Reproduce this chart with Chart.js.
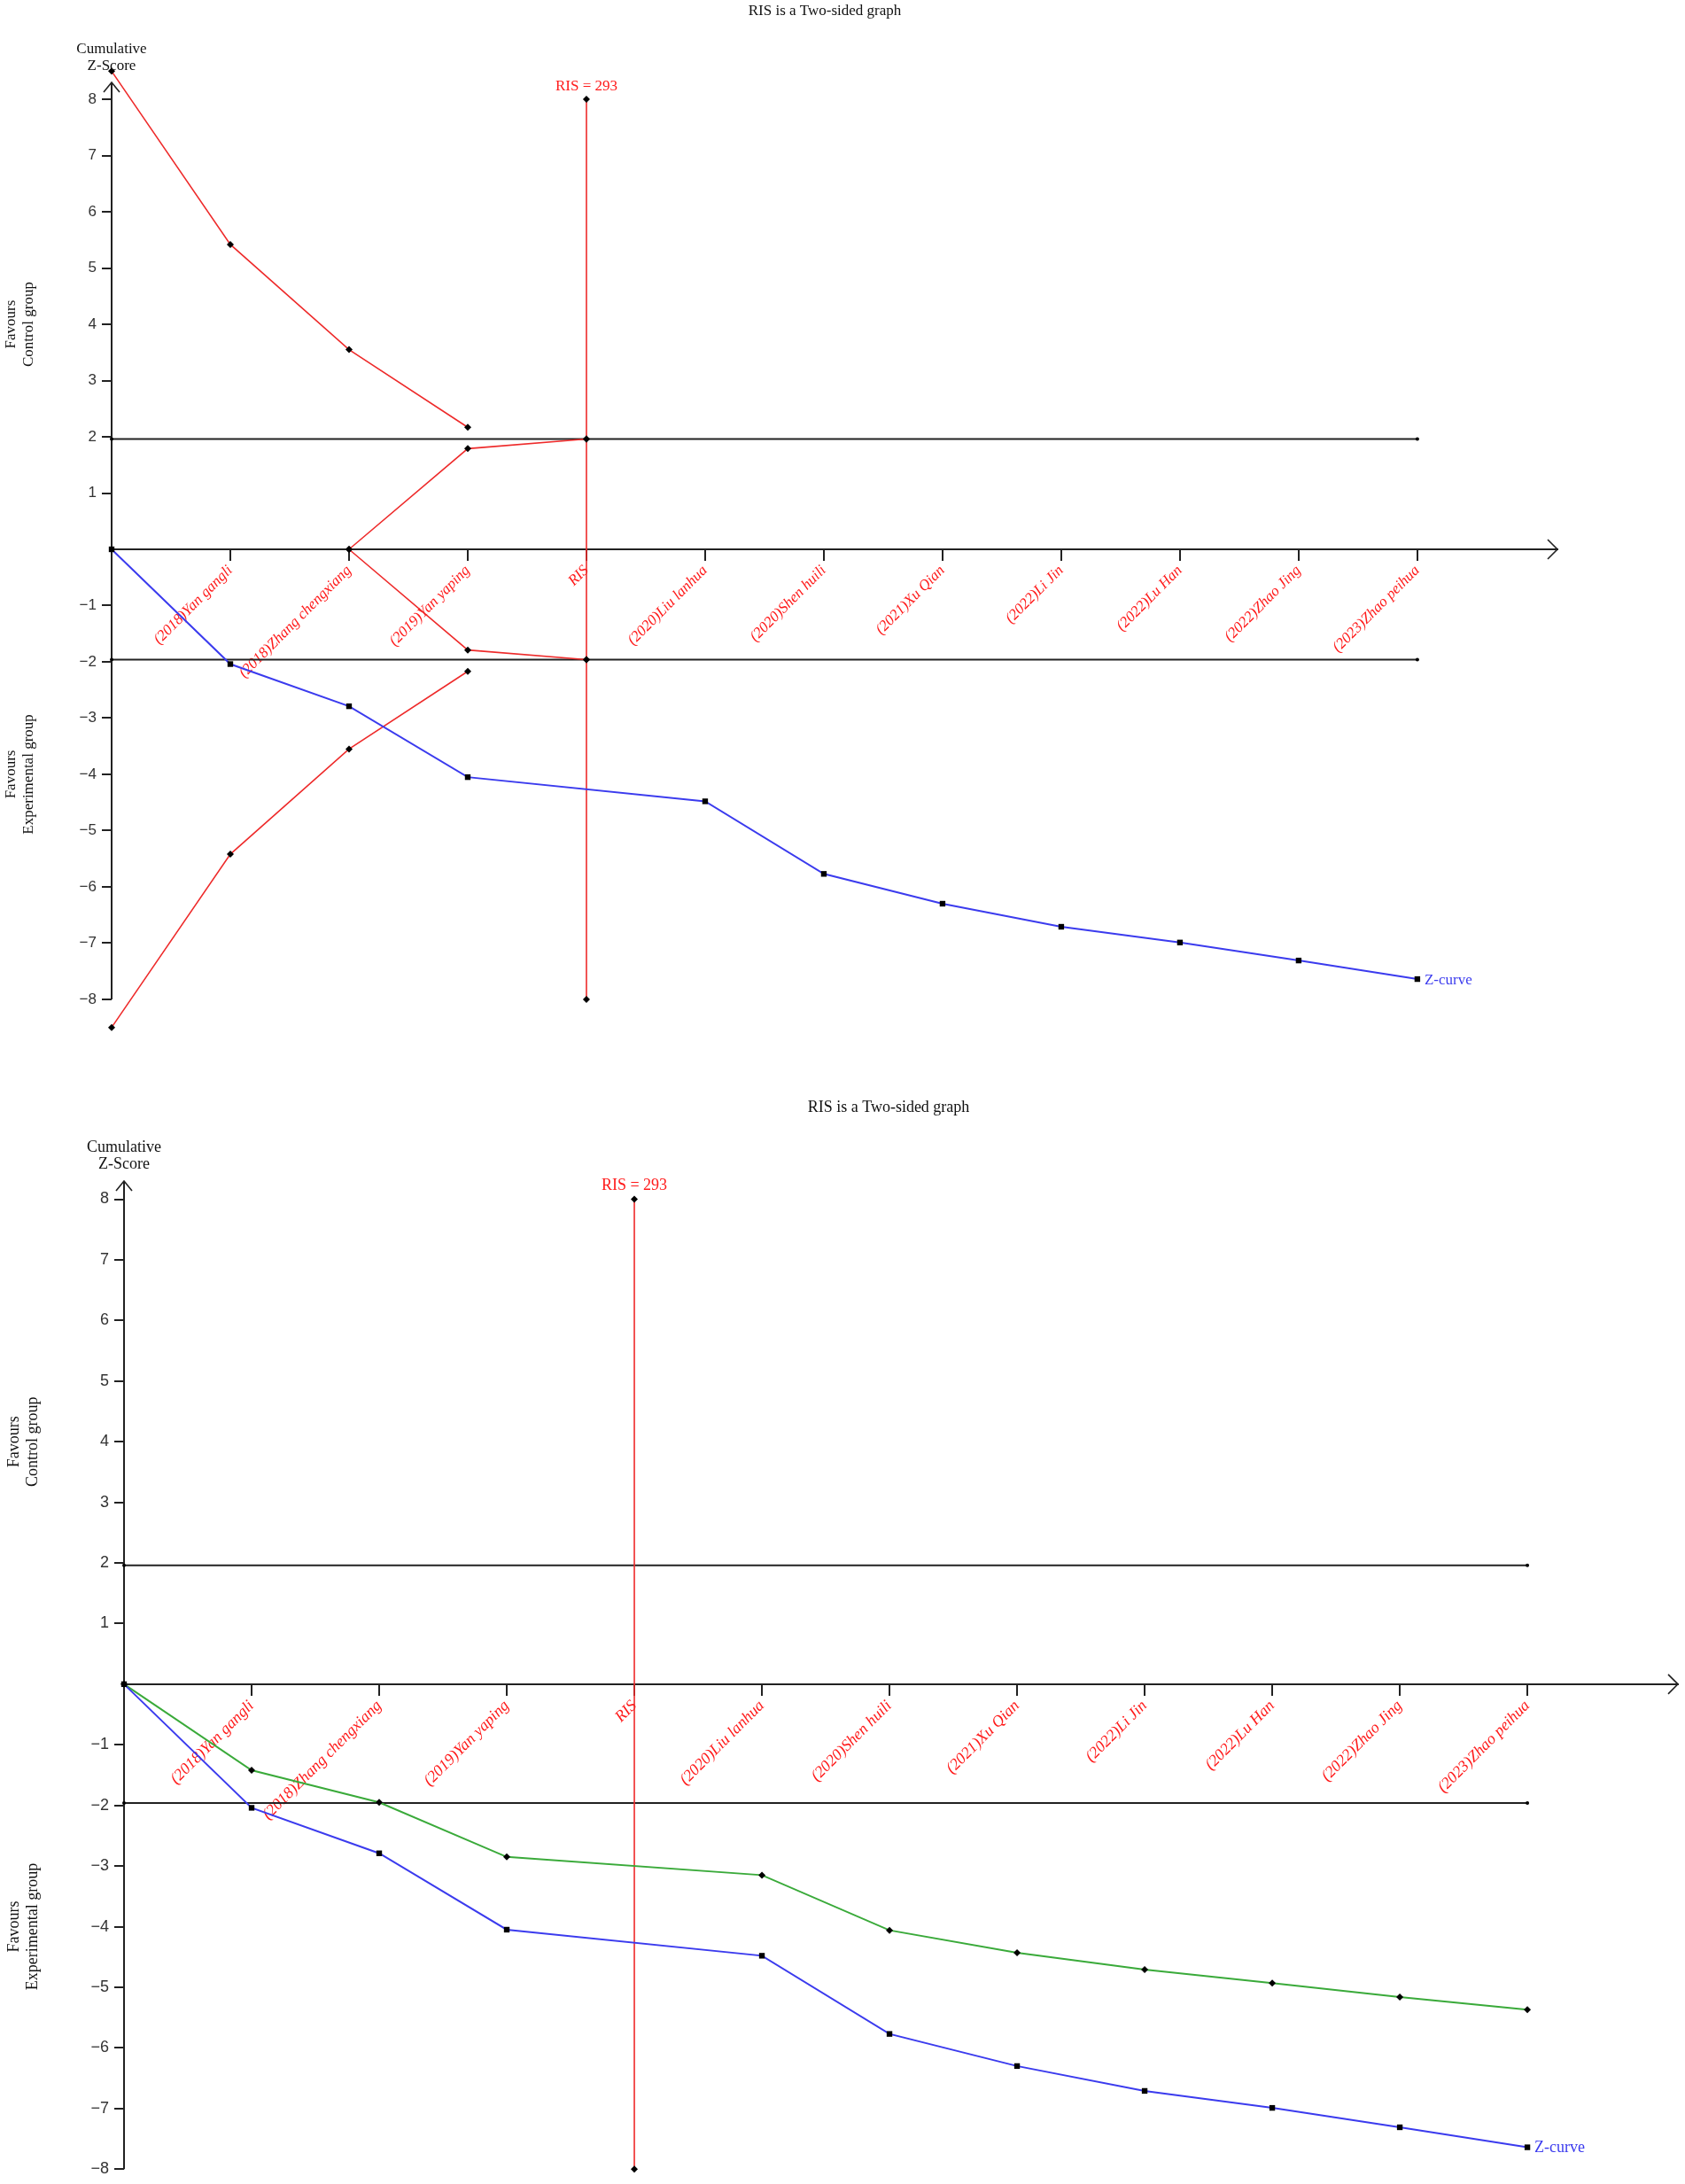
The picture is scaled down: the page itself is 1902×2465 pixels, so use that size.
<!DOCTYPE html>
<html><head><meta charset="utf-8">
<script src="https://cdn.jsdelivr.net/npm/chart.js@4.4.1/dist/chart.umd.min.js"></script>
<style>
html,body{margin:0;padding:0;background:#fff;}
#wrap{position:relative;width:1902px;height:2465px;overflow:hidden;}
canvas{position:absolute;left:0;}
#c1{top:0}
#c2{top:1215px}
</style></head><body>
<div id="wrap">
<canvas id="c1" width="1902" height="1215" style="width:1902px;height:1215px"></canvas>
<canvas id="c2" width="1902" height="1250" style="width:1902px;height:1250px"></canvas>
</div>
<script>
// ---------- data ----------
const categories = ['(2018)Yan gangli', '(2018)Zhang chengxiang', '(2019)Yan yaping', 'RIS',
  '(2020)Liu lanhua', '(2020)Shen huili', '(2021)Xu Qian', '(2022)Li Jin', '(2022)Lu Han',
  '(2022)Zhao Jing', '(2023)Zhao peihua'];
const yTickValues = [-8, -7, -6, -5, -4, -3, -2, -1, 1, 2, 3, 4, 5, 6, 7, 8];
const chartTitle = 'RIS is a Two-sided graph';
const risLabel = 'RIS = 293';
const zLabel = 'Z-curve';
const conventionalBoundary = 1.96;
// values indexed by x position 0..11 (0 = origin, 4 = RIS)
const zCurve = [0, -2.04, -2.79, -4.05, null, -4.48, -5.77, -6.30, -6.71, -6.99, -7.31, -7.64];
const upperBoundary = [8.5, 5.42, 3.55, 2.17];
const lowerBoundary = [-8.5, -5.42, -3.55, -2.17];
const innerUpper = [null, null, 0, 1.79, 1.96];
const innerLower = [null, null, 0, -1.79, -1.96];
const risLineTop = [8, 1.96, -1.96, -8];
const adjustedCurve = [0, -1.42, -1.95, -2.85, null, -3.15, -4.06, -4.43, -4.71, -4.93, -5.16, -5.37];
const risLineBottom = [8, -8];

// ---------- helpers ----------
const risX = categories.indexOf('RIS') + 1;
const lastX = categories.length;
const pts = arr => arr.map((v, i) => ({x: i, y: v})).filter(p => p.y !== null && p.y !== undefined);
const vpts = (xv, arr) => arr.map(v => ({x: xv, y: v}));
const hpts = v => [{x: 0, y: v}, {x: lastX, y: v}];

const RED = '#ee2b2b', BLUE = '#3b3bee', GREEN = '#3aaa3a', AX = '#222';
const AXIS_TOP = 8.3, AXIS_BOTTOM = -8;

function lineDs(data, color, width, style, radius, extra) {
  return Object.assign({
    data, borderColor: color, borderWidth: width, backgroundColor: '#000',
    pointBackgroundColor: '#000', pointBorderColor: '#000', pointBorderWidth: 0,
    pointStyle: style, pointRadius: radius, tension: 0, clip: false, spanGaps: true, fill: false
  }, extra || {});
}

const decor = {
  id: 'decor',
  beforeDatasetsDraw(chart) {
    const {ctx, chartArea: a, scales: {y}} = chart;
    const yt = y.getPixelForValue(AXIS_TOP), yb = y.getPixelForValue(AXIS_BOTTOM);
    ctx.save();
    ctx.strokeStyle = AX; ctx.lineWidth = 2;
    ctx.beginPath(); ctx.moveTo(a.left, yb); ctx.lineTo(a.left, yt); ctx.stroke();
    ctx.lineWidth = 1.6;
    ctx.beginPath(); ctx.moveTo(a.left - 9, yt + 11); ctx.lineTo(a.left, yt); ctx.lineTo(a.left + 9, yt + 11); ctx.stroke();
    ctx.restore();
  },
  afterDraw(chart) {
    const o = chart.options.plugins.decor;
    const {ctx, chartArea: a, scales: {x, y}} = chart;
    const f = o.fs;
    const yt = y.getPixelForValue(AXIS_TOP);
    ctx.save();
    ctx.strokeStyle = AX; ctx.lineWidth = 1.6;
    const y0 = y.getPixelForValue(0);
    ctx.beginPath(); ctx.moveTo(a.right - 11, y0 - 11); ctx.lineTo(a.right, y0); ctx.lineTo(a.right - 11, y0 + 11); ctx.stroke();
    // title
    ctx.fillStyle = '#111'; ctx.textAlign = 'center'; ctx.textBaseline = 'middle';
    ctx.font = f + 'px "Liberation Serif"';
    ctx.fillText(chartTitle, o.titleX, o.titleY);
    // y axis title
    ctx.fillText('Cumulative', a.left, yt - 38);
    ctx.fillText('Z-Score', a.left, yt - 19);
    // side titles
    const side = (l1, l2, v) => {
      ctx.save();
      ctx.translate(0, y.getPixelForValue(v));
      ctx.rotate(-Math.PI / 2);
      ctx.fillText(l1, 0, o.sideX1);
      ctx.fillText(l2, 0, o.sideX2);
      ctx.restore();
    };
    side('Favours', 'Control group', 4);
    side('Favours', 'Experimental group', -4);
    // RIS label
    ctx.fillStyle = '#ff1a1a';
    ctx.fillText(risLabel, x.getPixelForValue(risX), y.getPixelForValue(8) - 15);
    // Z-curve label
    ctx.fillStyle = BLUE; ctx.textAlign = 'left';
    ctx.fillText(zLabel, x.getPixelForValue(lastX) + 8, y.getPixelForValue(zCurve[lastX]) + 1);
    ctx.restore();
  }
};

function makeChart(id, datasets, p) {
  return new Chart(document.getElementById(id), {
    type: 'line',
    data: {datasets},
    plugins: [decor],
    options: {
      responsive: false, animation: false, devicePixelRatio: 1,
      layout: {padding: {left: 0, top: p.top, right: p.right, bottom: p.bottom}},
      plugins: {legend: {display: false}, tooltip: {enabled: false}, title: {display: false},
        decor: {fs: p.fs, titleX: p.titleX, titleY: p.titleY, sideX1: p.sideX1, sideX2: p.sideX2}},
      scales: {
        x: {
          type: 'linear', min: 0, max: 12.18, position: {y: 0},
          afterBuildTicks: s => { s.ticks = categories.map((c, i) => ({value: i + 1})); },
          ticks: {autoSkip: false, minRotation: 45, maxRotation: 45, padding: 2, color: '#ff1a1a',
            font: {family: 'Liberation Serif', style: 'italic', size: p.fs},
            callback: v => categories[Math.round(v) - 1] || ''},
          grid: {drawOnChartArea: false, drawTicks: true, tickLength: 12, color: AX, lineWidth: 2},
          border: {display: true, color: AX, width: 2}
        },
        y: {
          type: 'linear', min: p.ymin, max: p.ymax, position: 'left',
          afterBuildTicks: s => { s.ticks = yTickValues.map(v => ({value: v})); },
          afterFit: s => { s.width = p.left; },
          ticks: {padding: 6, color: '#333', font: {family: 'Liberation Sans', size: p.fs},
            callback: v => v < 0 ? '\u2212' + Math.abs(v) : String(v)},
          grid: {drawOnChartArea: false, drawTicks: true, tickLength: 11, color: AX, lineWidth: 2},
          border: {display: false}
        }
      }
    }
  });
}

// ---------- top chart ----------
makeChart('c1', [
  lineDs(pts(zCurve), BLUE, 2, 'rect', 4.5),
  lineDs(pts(upperBoundary), RED, 1.6, 'rectRot', 4),
  lineDs(pts(lowerBoundary), RED, 1.6, 'rectRot', 4),
  lineDs(pts(innerUpper), RED, 1.6, 'rectRot', 4),
  lineDs(pts(innerLower), RED, 1.6, 'rectRot', 4),
  lineDs(vpts(risX, risLineTop), RED, 1.6, 'rectRot', 4),
  lineDs(hpts(conventionalBoundary), AX, 2, 'circle', 2),
  lineDs(hpts(-conventionalBoundary), AX, 2, 'circle', 2)
], {left: 126, top: 74, right: 144, bottom: 49, ymin: -8.6, ymax: 8.6, fs: 17, titleX: 931, titleY: 13, sideX1: 13, sideX2: 33});

// ---------- bottom chart ----------
makeChart('c2', [
  lineDs(pts(zCurve), BLUE, 2, 'rect', 4.5),
  lineDs(pts(adjustedCurve), GREEN, 2, 'rectRot', 4),
  lineDs(vpts(risX, risLineBottom), RED, 1.6, 'rectRot', 4),
  lineDs(hpts(conventionalBoundary), AX, 2, 'circle', 2),
  lineDs(hpts(-conventionalBoundary), AX, 2, 'circle', 2)
], {left: 140, top: 118, right: 8, bottom: 16, ymin: -8, ymax: 8.3, fs: 18, titleX: 1003, titleY: 35, sideX1: 16, sideX2: 37});
</script>
</body></html>
